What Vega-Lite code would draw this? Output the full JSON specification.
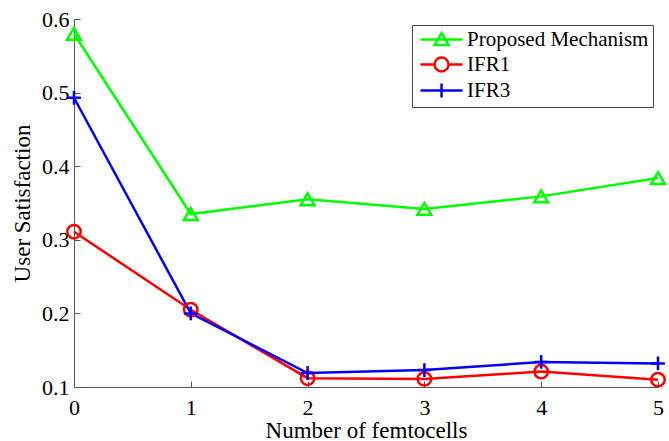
{
  "$schema": "https://vega.github.io/schema/vega-lite/v6.json",
  "width": 584,
  "height": 368,
  "autosize": "none",
  "padding": {"left": 74, "top": 19, "right": 11, "bottom": 54},
  "background": "white",
  "config": {
    "view": {"stroke": null},
    "font": "Liberation Serif"
  },
  "data": {
    "values": [
      {"series": "Proposed Mechanism", "n": 0, "s": 0.58},
      {"series": "Proposed Mechanism", "n": 1, "s": 0.335},
      {"series": "Proposed Mechanism", "n": 2, "s": 0.355},
      {"series": "Proposed Mechanism", "n": 3, "s": 0.342},
      {"series": "Proposed Mechanism", "n": 4, "s": 0.359},
      {"series": "Proposed Mechanism", "n": 5, "s": 0.384},
      {"series": "IFR1", "n": 0, "s": 0.311},
      {"series": "IFR1", "n": 1, "s": 0.205},
      {"series": "IFR1", "n": 2, "s": 0.112},
      {"series": "IFR1", "n": 3, "s": 0.111},
      {"series": "IFR1", "n": 4, "s": 0.121},
      {"series": "IFR1", "n": 5, "s": 0.11},
      {"series": "IFR3", "n": 0, "s": 0.493},
      {"series": "IFR3", "n": 1, "s": 0.2},
      {"series": "IFR3", "n": 2, "s": 0.119},
      {"series": "IFR3", "n": 3, "s": 0.123},
      {"series": "IFR3", "n": 4, "s": 0.134},
      {"series": "IFR3", "n": 5, "s": 0.132}
    ]
  },
  "encoding": {
    "x": {
      "field": "n", "type": "quantitative",
      "scale": {"domain": [0, 5], "nice": false, "zero": false},
      "axis": {
        "values": [0, 1, 2, 3, 4, 5], "format": "d", "grid": false,
        "domainColor": "#555", "tickColor": "#555", "tickSize": -6,
        "labelFont": "Liberation Serif", "labelFontSize": 22, "labelColor": "black",
        "labelPadding": 16, "labelFlush": false, "labelOverlap": false,
        "title": "Number of femtocells", "titleFont": "Liberation Serif", "titleFontSize": 23,
        "titleFontWeight": "normal", "titleColor": "black",
        "titleX": 292, "titleY": 50, "titleBaseline": "alphabetic"
      }
    },
    "y": {
      "field": "s", "type": "quantitative",
      "scale": {"domain": [0.1, 0.6], "nice": false, "zero": false},
      "axis": {
        "values": [0.1, 0.2, 0.3, 0.4, 0.5, 0.6], "format": ".1f", "grid": false,
        "domainColor": "#555", "tickColor": "#555", "tickSize": -6,
        "labelFont": "Liberation Serif", "labelFontSize": 22, "labelColor": "black",
        "labelPadding": 11, "labelFlush": false, "labelOverlap": false,
        "title": "User Satisfaction", "titleFont": "Liberation Serif", "titleFontSize": 23,
        "titleFontWeight": "normal", "titleColor": "black",
        "titleX": -45, "titleY": 184, "titleAngle": -90, "titleBaseline": "alphabetic"
      }
    }
  },
  "layer": [
    {
      "mark": {"type": "line", "strokeWidth": 2.5, "clip": false},
      "encoding": {
        "color": {
          "field": "series", "type": "nominal",
          "scale": {"domain": ["Proposed Mechanism", "IFR1", "IFR3"], "range": ["#00ff00", "#ff0000", "#0000ff"]},
          "legend": {
            "title": null, "orient": "none", "legendX": 338, "legendY": 6,
            "padding": 4, "strokeColor": "#444", "fillColor": "white",
            "labelFont": "Liberation Serif", "labelFontSize": 21, "labelColor": "black", "labelLimit": 0,
            "symbolSize": 196, "symbolStrokeWidth": 2.5, "labelOffset": 30, "rowPadding": 1,
            "encode": {
              "symbols": {
                "update": {
                  "shape": {"signal": "datum.value === 'Proposed Mechanism' ? 'M-0.85,0H5.15M2.15,-0.9L3.15,0.8L1.15,0.8Z' : datum.value === 'IFR1' ? 'M-0.85,0H1.15M3.15,0H5.15M3.15,0A1,1 0 1,1 1.15,0A1,1 0 1,1 3.15,0Z' : 'M-0.85,0H5.15M2.15,-1V1'"},
                  "fill": {"value": "transparent"},
                  "strokeWidth": {"value": 2.5}
                }
              }
            }
          }
        }
      }
    },
    {
      "transform": [{"filter": "datum.series === 'Proposed Mechanism'"}],
      "mark": {"type": "point", "shape": "triangle-up", "filled": false, "strokeWidth": 2.5, "size": 190, "opacity": 1, "clip": false},
      "encoding": {"color": {"field": "series", "type": "nominal", "legend": null}}
    },
    {
      "transform": [{"filter": "datum.series === 'IFR1'"}],
      "mark": {"type": "point", "shape": "circle", "filled": false, "strokeWidth": 2.5, "size": 180, "opacity": 1, "clip": false},
      "encoding": {"color": {"field": "series", "type": "nominal", "legend": null}}
    },
    {
      "transform": [{"filter": "datum.series === 'IFR3'"}],
      "mark": {"type": "point", "shape": "M-1,0H1M0,-1V1", "filled": false, "strokeWidth": 2.5, "size": 190, "opacity": 1, "clip": false},
      "encoding": {"color": {"field": "series", "type": "nominal", "legend": null}}
    }
  ]
}
